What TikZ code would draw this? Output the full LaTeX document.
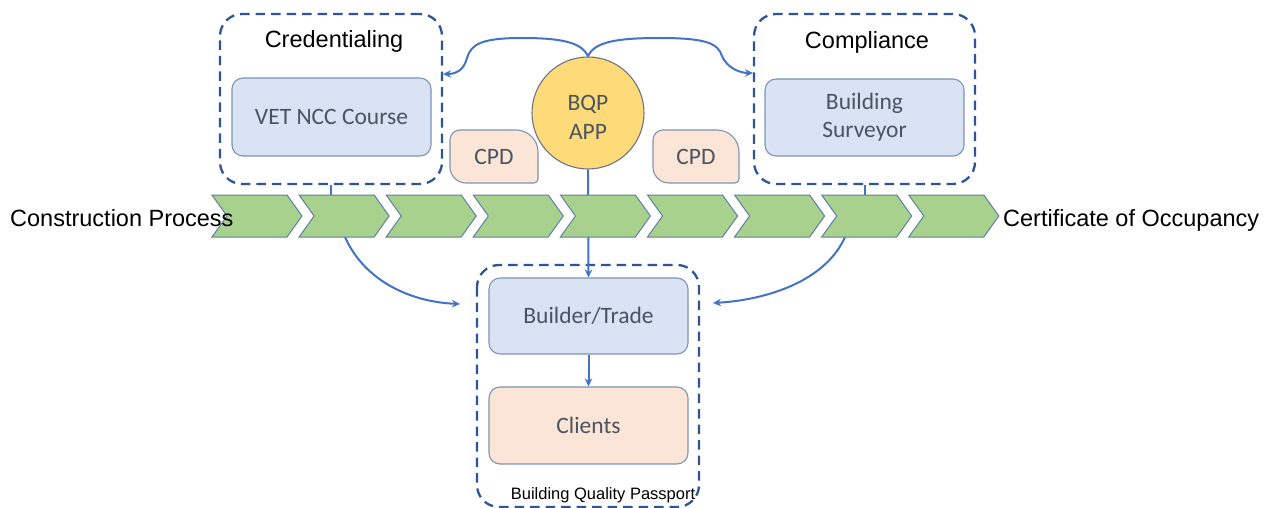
\documentclass[tikz,border=0pt]{standalone}
\usepackage{fontspec}
\setmainfont{Liberation Sans}
\newfontfamily\calfont{Carlito}
\usetikzlibrary{arrows.meta,calc}
\definecolor{dashblue}{HTML}{2F5597}
\definecolor{lineblue}{HTML}{4472C4}
\definecolor{boxblue}{HTML}{DAE3F3}
\definecolor{boxedge}{HTML}{7F93B5}
\definecolor{peach}{HTML}{FBE5D6}
\definecolor{gold}{HTML}{FFDA78}
\definecolor{goldedge}{HTML}{6D7583}
\definecolor{chevgreen}{HTML}{A9D18E}
\definecolor{chevedge}{HTML}{5F7FA3}
\definecolor{boxtext}{HTML}{4A5461}
\tikzset{
  group/.style={draw=dashblue, line width=2.3pt, dash pattern=on 9.5pt off 6pt, rounded corners=22pt, inner sep=0pt},
  lbl/.style={font=\fontsize{23.5}{28}\selectfont, text=black, inner sep=0pt},
  boxbase/.style={draw=boxedge, line width=1.1pt, rounded corners=11pt, inner sep=0pt, font=\calfont\fontsize{23.5}{29}\selectfont, text=boxtext, align=center},
  bluebox/.style={boxbase, fill=boxblue},
  peachbox/.style={boxbase, fill=peach},
  cpdshape/.style={draw=boxedge, line width=1.1pt, fill=peach},
  cpdtext/.style={font=\calfont\fontsize{23.5}{29}\selectfont, text=boxtext, inner sep=0pt},
  conn/.style={draw=lineblue, line width=2pt},
  arr/.style={conn, -{Stealth[length=8pt,width=7.5pt]}},
  chev/.style={fill=chevgreen, draw=chevedge, line width=1pt, line join=miter}
}
\begin{document}
\begin{tikzpicture}[x=1pt,y=-1pt]
\useasboundingbox (0,0) rectangle (1265,508);
\fill[white] (0,0) rectangle (1265,508);
% group boxes
\node[group, minimum width=222pt, minimum height=170pt] (cred) at (331,99) {};
\node[group, minimum width=221pt, minimum height=170pt] (comp) at (864.5,99) {};
\draw[group] (477,265) rectangle (699,507);
\node[lbl, anchor=base] (credlbl) at (334,48) {Credentialing};
\node[lbl, anchor=base] (complbl) at (867,49) {Compliance};
% boxes
\node[bluebox, minimum width=199pt, minimum height=78pt] (vet) at (331.5,117) {VET NCC Course};
\node[bluebox, minimum width=199pt, minimum height=77pt] (surv) at (864.5,117.5) {Building\\[-1pt]Surveyor};
\node[bluebox, minimum width=199pt, minimum height=76pt] (builder) at (588.5,316) {Builder/Trade};
\node[peachbox, minimum width=199pt, minimum height=77pt] (clients) at (588.5,425.5) {Clients};
\node[draw=goldedge, fill=gold, line width=1.1pt, circle, minimum size=112pt, inner sep=0pt, font=\calfont\fontsize{23.5}{29}\selectfont, text=boxtext, align=center] (bqp) at (588,113) {};
\node[inner sep=0pt, font=\calfont\fontsize{23.5}{29}\selectfont, text=boxtext, align=center] (bqptext) at (588,117) {BQP\\APP};
% CPD shapes
\draw[cpdshape] (460,130) -- (516,130) .. controls (528.1,130) and (538,139.9) .. (538,152) -- (538,179) .. controls (538,181.2) and (536.2,183) .. (534,183) -- (466,183) .. controls (457.2,183) and (450,175.8) .. (450,167) -- (450,140) .. controls (450,134.5) and (454.5,130) .. (460,130) -- cycle;
\draw[cpdshape] (663,130) -- (717,130) .. controls (729.1,130) and (739,139.9) .. (739,152) -- (739,179) .. controls (739,181.2) and (737.2,183) .. (735,183) -- (669,183) .. controls (660.2,183) and (653,175.8) .. (653,167) -- (653,140) .. controls (653,134.5) and (657.5,130) .. (663,130) -- cycle;
\node[cpdtext] (cpd1) at (494,157) {CPD};
\node[cpdtext] (cpd2) at (696,157) {CPD};
% chevron coordinates
\foreach \i in {0,...,8}{
  \pgfmathsetmacro\xa{212+87.1*\i}
  \coordinate (t\i) at (\xa+45,195);
  \coordinate (b\i) at (\xa+45,237);
}
\coordinate (lstart) at (345,237);
\coordinate (rstart) at (845,237);
\coordinate (ltip) at (460,304);
\coordinate (rtip) at (713,303);
\coordinate (cl) at (443,74);
\coordinate (cr) at (753,73);
% connectors
\draw[arr] (bqp.south) -- (builder.north);
\draw[arr] (builder.south) -- (clients.north);
\draw[conn] (cred.south) -- (cred.south |- t1);
\draw[conn] (comp.south) -- (comp.south |- t7);
\draw[arr] (lstart) .. controls (365,282) and (412,302) .. (ltip);
\draw[arr] (rstart) .. controls (825,282) and (765,300) .. (rtip);
\draw[arr] (bqp.north) .. controls (582,42) and (560,38) .. (522,38) .. controls (482,38) and (471,44) .. (467,58) .. controls (464,70) and (456,74) .. (cl);
\draw[arr] (bqp.north) .. controls (594,42) and (616,38) .. (660,38) .. controls (708,38) and (718,44) .. (722,56) .. controls (727,68) and (740,73) .. (cr);
% chevrons
\foreach \i in {0,...,8}{
  \pgfmathsetmacro\xa{212+87.1*\i}
  \draw[chev] (\xa,195) -- ++(75,0) -- ++(15,21) -- ++(-15,21) -- ++(-75,0) -- ++(15,-21) -- cycle;
}
% side labels
\node[lbl, anchor=base west] (cp) at (10,226) {Construction Process};
\node[lbl, anchor=base west] (co) at (1003,226) {Certificate of Occupancy};
\node[inner sep=0pt, anchor=base, font=\fontsize{16.5}{20}\selectfont] (bqplbl) at (603,499) {Building Quality Passport};
\end{tikzpicture}
\end{document}
